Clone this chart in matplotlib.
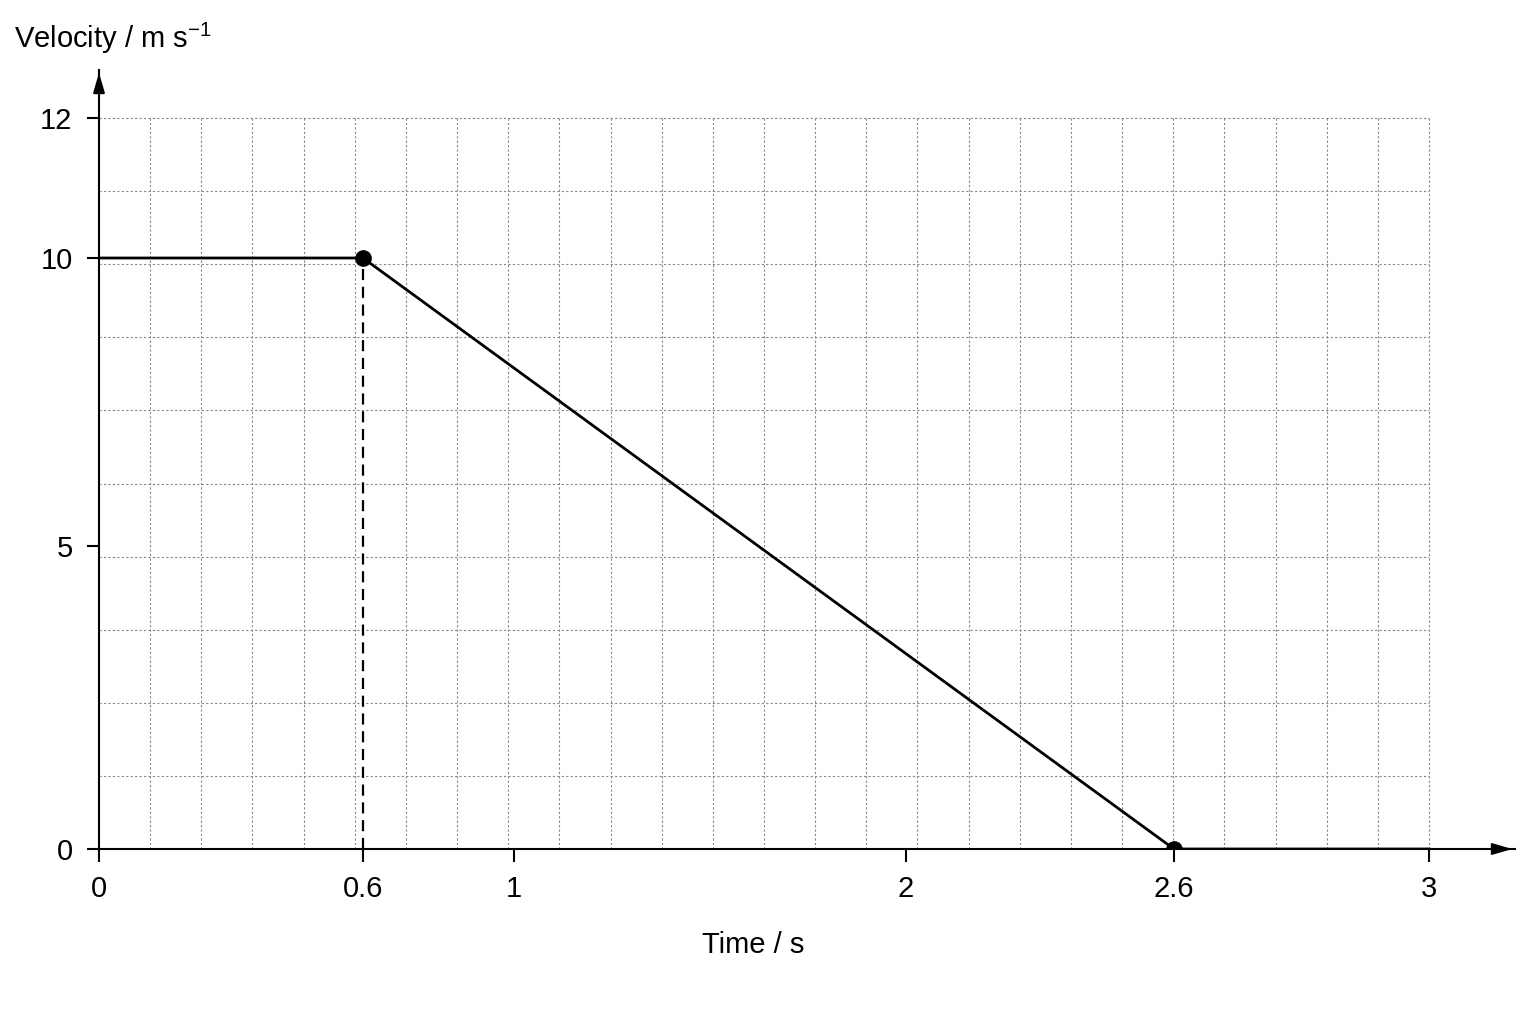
import numpy as np
import matplotlib
matplotlib.use("Agg")
import matplotlib.pyplot as plt

plt.rcParams['font.family'] = ['Liberation Sans', 'DejaVu Sans']

# data
t_vals = [0, 0.6, 2.6, 3.0]
v_vals = [10, 10, 0, 0]
x_ticks = [0, 0.6, 1, 2, 2.6, 3]
x_tick_labels = ["0", "0.6", "1", "2", "2.6", "3"]
y_ticks = [0, 5, 10, 12]
y_tick_labels = ["0", "5", "10", "12"]

# piecewise scale reproducing the drawing's spacing
xk_d = np.array([0, 0.6, 1, 2, 2.6, 3, 3.4])
xk_p = np.array([0, 264, 415, 807, 1075, 1330, 1585])
yk_d = np.array([0, 5, 10, 12, 13])
yk_p = np.array([0, 303, 591, 731, 801])
fx = (lambda v: np.interp(v, xk_d, xk_p), lambda p: np.interp(p, xk_p, xk_d))
fy = (lambda v: np.interp(v, yk_d, yk_p), lambda p: np.interp(p, yk_p, yk_d))

fig = plt.figure(figsize=(15.36, 10.24), dpi=100)
ax = fig.add_axes([99/1536, (1024-849)/1024, (1515-99)/1536, (849-70)/1024])
ax.set_xscale('function', functions=fx)
ax.set_yscale('function', functions=fy)
ax.set_xlim(0, fx[1](1416))
ax.set_ylim(0, fy[1](779))

for s in ['top', 'right']:
    ax.spines[s].set_visible(False)
for s in ['left', 'bottom']:
    ax.spines[s].set_linewidth(1.5)

# grid
gx = fx[1](np.linspace(0, 1330, 27))
gy = fy[1](np.linspace(0, 731, 11))
ax.vlines(gx[1:], 0, 12, colors='#888888', linestyles=(0, (2, 2)), linewidth=0.8, zorder=0)
ax.hlines(gy[1:], 0, 3, colors='#888888', linestyles=(0, (2, 2)), linewidth=0.8, zorder=0)

ax.plot(t_vals, v_vals, color='black', lw=2, zorder=3)
ax.plot([0.6, 0.6], [0, 10], color='black', lw=1.6, ls=(0, (5, 3)), zorder=3)
ax.plot([0.6, 2.6], [10, 0], 'o', color='black', ms=11, zorder=4)

ax.set_xticks(x_ticks, x_tick_labels)
ax.set_yticks(y_ticks, y_tick_labels)
ax.minorticks_off()
ax.tick_params(labelsize=21, length=9, width=1.5, pad=10)

# arrows
ax.annotate('', xy=(1, 0), xytext=(0.99, 0), xycoords='axes fraction',
            arrowprops=dict(arrowstyle='-|>,head_length=1.2,head_width=0.35', color='black', lw=1.5))
ax.annotate('', xy=(0, 1), xytext=(0, 0.99), xycoords='axes fraction',
            arrowprops=dict(arrowstyle='-|>,head_length=1.2,head_width=0.35', color='black', lw=1.5))

fig.text(14/1536, 1-38/1024, "Velocity / m s$^{\\mathregular{-1}}$", fontsize=21, va='center', ha='left')
fig.text(753/1536, 1-945/1024, "Time / s", fontsize=21, va='center', ha='center')

fig.savefig("out.png", dpi=100)
